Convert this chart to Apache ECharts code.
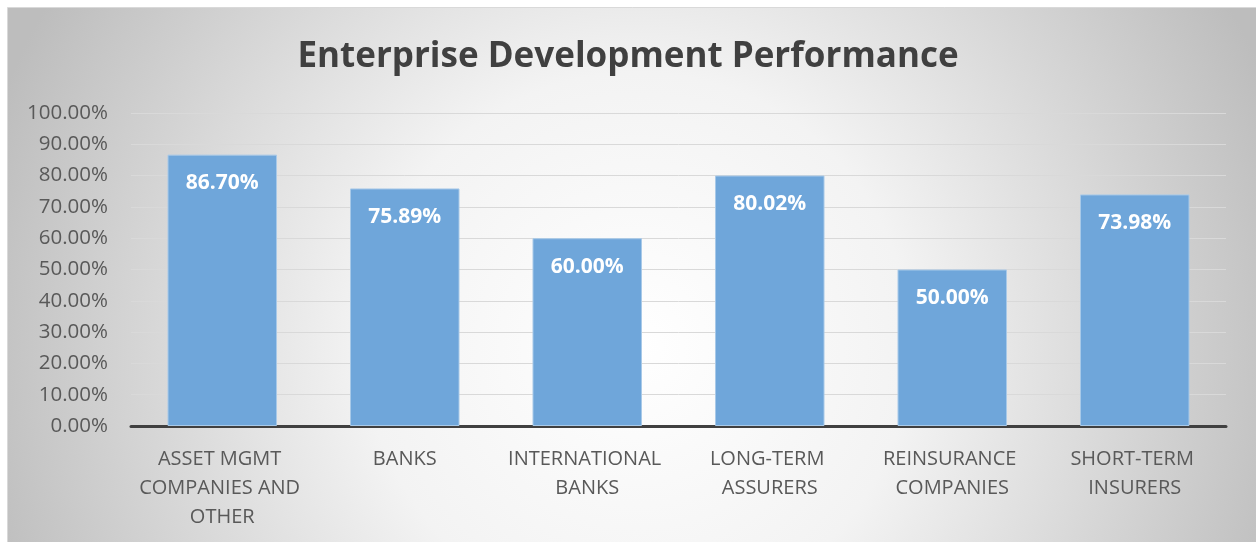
<!DOCTYPE html>
<html>
<head>
<meta charset="utf-8">
<script src="https://cdn.jsdelivr.net/npm/echarts@6/dist/echarts.min.js"></script>
<style>
  html, body { margin: 0; padding: 0; background: #ffffff; }
  #chart { width: 1256px; height: 542px; }
</style>
</head>
<body>
<div id="chart"></div>
<script>
// Sector categories and their development performance (fractions of 1)
const categories = [
  'ASSET MGMT COMPANIES AND OTHER',
  'BANKS',
  'INTERNATIONAL BANKS',
  'LONG-TERM ASSURERS',
  'REINSURANCE COMPANIES',
  'SHORT-TERM INSURERS'
];
const performance = [0.8670, 0.7589, 0.6000, 0.8002, 0.5000, 0.7398];
const yTicks = { min: 0, max: 1, interval: 0.1 };

const chart = echarts.init(document.getElementById('chart'), null, { renderer: 'canvas' });
const pct = v => (v * 100).toFixed(2) + '%';
const FONT = '"Open Sans", "Liberation Sans", sans-serif';

chart.setOption({
  animation: false,
  graphic: [{
    type: 'rect',
    z: -10,
    silent: true,
    shape: { x: 7.5, y: 7.5, width: 1260, height: 545 },
    style: {
      fill: {
        type: 'radial', x: 0.5, y: 0.62, r: 1.25,
        colorStops: [
          { offset: 0, color: '#ffffff' },
          { offset: 0.4, color: '#f3f3f3' },
          { offset: 1, color: '#bdbdbd' }
        ]
      },
      stroke: '#d9d9d9',
      lineWidth: 1
    }
  }],
  title: {
    text: 'Enterprise Development Performance',
    left: 'center',
    top: 35,
    textStyle: { fontFamily: FONT, fontWeight: 'bold', fontSize: 35, color: '#404040' }
  },
  grid: { left: 131, right: 30, top: 113, bottom: 116, containLabel: false },
  xAxis: {
    type: 'category',
    data: categories,
    axisLine: { lineStyle: { color: '#404040', width: 3 } },
    axisTick: { show: false },
    axisLabel: {
      interval: 0,
      margin: 19,
      fontFamily: FONT,
      fontSize: 20,
      lineHeight: 29,
      color: '#595959',
      width: 170,
      overflow: 'break'
    }
  },
  yAxis: {
    type: 'value',
    min: yTicks.min,
    max: yTicks.max,
    interval: yTicks.interval,
    axisLine: { show: false },
    axisTick: { show: false },
    splitLine: { lineStyle: { color: '#d9d9d9', width: 1 } },
    axisLabel: {
      margin: 23,
      fontFamily: FONT,
      fontSize: 20.5,
      color: '#595959',
      formatter: v => pct(v)
    }
  },
  series: [{
    type: 'bar',
    data: performance,
    barWidth: '60%',
    itemStyle: { color: '#6fa6da', borderColor: '#a8c9e8', borderWidth: 1 },
    label: {
      show: true,
      position: 'insideTop',
      distance: 18,
      fontFamily: FONT,
      fontWeight: 'bold',
      fontSize: 21,
      color: '#ffffff',
      formatter: p => pct(p.value)
    }
  }]
});
</script>
</body>
</html>
